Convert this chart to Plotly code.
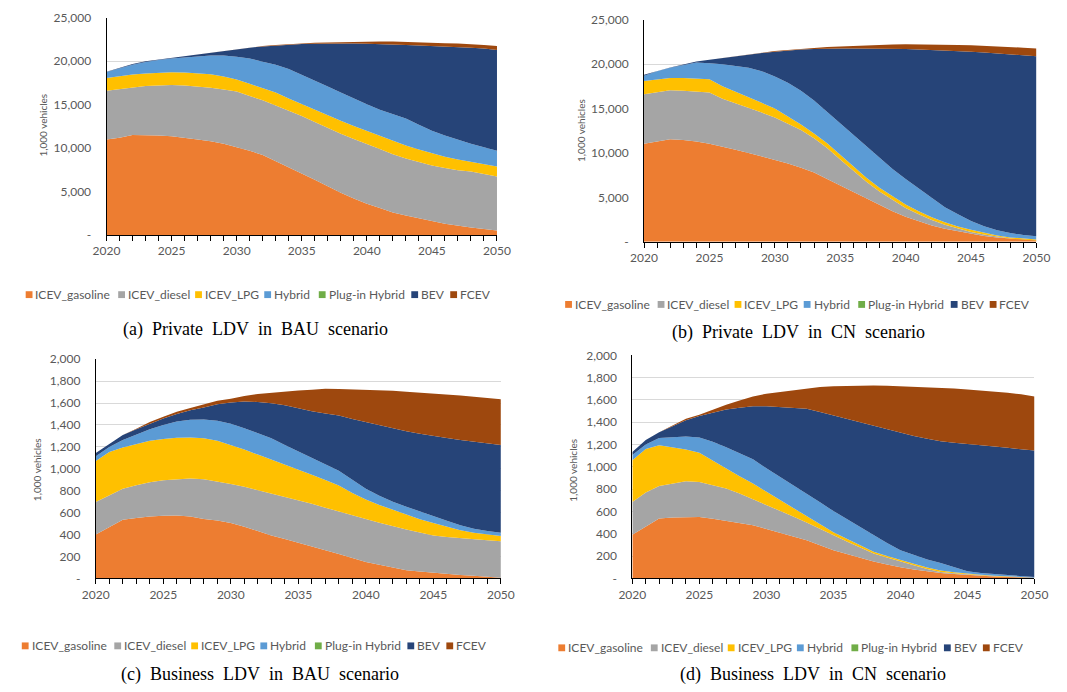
import numpy as np
import plotly.graph_objects as go

# ---------------- data (stack boundaries) ----------------
years = list(range(2020, 2051))
series_names = ["ICEV_gasoline", "ICEV_diesel", "ICEV_LPG", "Hybrid",
                "Plug-in Hybrid", "BEV", "FCEV"]
colors = ["#ED7D31", "#A5A5A5", "#FFC000", "#5B9BD5", "#70AD47", "#264478", "#9E480E"]

# (a) Private LDV, BAU  (1,000 vehicles, cumulative top of each band)
a_top_gasoline = [11000, 11200, 11500, 11500, 11450, 11350, 11200, 11000, 10800, 10500, 10100,
                  9700, 9200, 8500, 7800, 7100, 6350, 5600, 4850, 4200, 3600,
                  3100, 2600, 2250, 1900, 1600, 1300, 1050, 870, 700, 500]
a_top_diesel = [16600, 16800, 17000, 17150, 17200, 17250, 17200, 17100, 16950, 16750, 16500,
                16000, 15500, 14900, 14300, 13700, 13000, 12300, 11650, 11050, 10500,
                9900, 9300, 8800, 8400, 8000, 7700, 7450, 7300, 7000, 6730]
a_top_lpg = [18080, 18300, 18460, 18600, 18700, 18720, 18700, 18600, 18500, 18250, 17900,
             17400, 16900, 16400, 15700, 15050, 14400, 13750, 13160, 12550, 12000,
             11400, 10850, 10300, 9850, 9400, 9000, 8700, 8430, 8150, 7870]
a_top_hybrid = [18760, 19200, 19600, 19900, 20150, 20300, 20450, 20550, 20650, 20650, 20500,
                20300, 19950, 19600, 19100, 18460, 17800, 17100, 16400, 15700, 15050,
                14400, 13900, 13400, 12700, 12000, 11450, 10950, 10500, 10100, 9680]
a_top_phev = [18760, 19200, 19600, 19900, 20150, 20300, 20450, 20550, 20650, 20650, 20500,
              20300, 19950, 19600, 19100, 18460, 17800, 17100, 16400, 15700, 15050,
              14400, 13900, 13400, 12700, 12000, 11450, 10950, 10500, 10100, 9680]
a_top_bev = [18800, 19250, 19670, 20000, 20200, 20350, 20550, 20750, 21000, 21200, 21370,
             21550, 21700, 21800, 21900, 21970, 22000, 22030, 22050, 22050, 22000,
             21980, 21930, 21860, 21800, 21750, 21700, 21630, 21560, 21450, 21300]
a_top_fcev = [18800, 19250, 19670, 20000, 20200, 20360, 20570, 20780, 21030, 21230, 21400,
              21600, 21750, 21870, 21980, 22070, 22120, 22160, 22200, 22250, 22280,
              22280, 22270, 22240, 22180, 22120, 22080, 22030, 21970, 21880, 21750]

# (b) Private LDV, CN
b_top_gasoline = [11030, 11300, 11540, 11450, 11290, 11030, 10740, 10370, 10000, 9630, 9260,
                  8820, 8350, 7800, 7060, 6320, 5600, 4850, 4120, 3450, 2830,
                  2300, 1840, 1480, 1180, 900, 660, 500, 370, 260, 180]
b_top_diesel = [16600, 16850, 17060, 17000, 16900, 16800, 16100, 15600, 15100, 14550, 14000,
                13300, 12600, 11650, 10550, 9260, 7980, 6760, 5660, 4700, 3820,
                3100, 2460, 1920, 1470, 1100, 810, 570, 370, 250, 150]
b_top_lpg = [18100, 18300, 18450, 18450, 18400, 18300, 17500, 16900, 16300, 15650, 15000,
             14100, 13200, 12200, 11100, 9800, 8500, 7200, 6100, 5100, 4200,
             3450, 2760, 2200, 1730, 1350, 1000, 720, 500, 350, 250]
b_top_hybrid = [18700, 19200, 19600, 19900, 20200, 20100, 20000, 19800, 19600, 19200, 18600,
                17900, 17000, 15900, 14600, 13300, 12000, 10700, 9400, 8200, 7060,
                6000, 4900, 3900, 3100, 2350, 1760, 1300, 1000, 770, 630]
b_top_phev = [18700, 19200, 19600, 19900, 20200, 20100, 20000, 19800, 19600, 19200, 18600,
              17900, 17000, 15900, 14600, 13300, 12000, 10700, 9400, 8200, 7060,
              6000, 4900, 3900, 3100, 2350, 1760, 1300, 1000, 770, 630]
b_top_bev = [18800, 19220, 19620, 19950, 20300, 20500, 20700, 20900, 21100, 21250, 21400,
             21530, 21650, 21700, 21760, 21770, 21770, 21770, 21770, 21740, 21700,
             21650, 21600, 21550, 21500, 21400, 21300, 21200, 21100, 21000, 20900]
b_top_fcev = [18800, 19220, 19620, 19950, 20300, 20500, 20700, 20900, 21120, 21300, 21470,
              21600, 21730, 21840, 21930, 22000, 22070, 22140, 22200, 22220, 22240,
              22240, 22230, 22200, 22170, 22130, 22080, 22020, 21950, 21860, 21760]

# (c) Business LDV, BAU
c_top_gasoline = [401, 465, 535, 550, 565, 572, 574, 565, 541, 527, 505,
                  472, 432, 392, 360, 327, 290, 257, 223, 186, 149,
                  124, 100, 74, 62, 50, 38, 30, 24, 15, 6]
c_top_diesel = [698, 760, 817, 850, 877, 895, 906, 912, 905, 885, 862,
                835, 805, 773, 745, 713, 680, 645, 609, 575, 541,
                508, 475, 446, 418, 392, 378, 366, 357, 348, 339]
c_top_lpg = [1070, 1153, 1195, 1225, 1257, 1272, 1284, 1285, 1278, 1255, 1218,
             1175, 1130, 1085, 1040, 996, 946, 897, 847, 780, 719,
             670, 625, 579, 540, 505, 470, 440, 416, 400, 386]
c_top_hybrid = [1114, 1200, 1263, 1310, 1361, 1400, 1432, 1448, 1450, 1438, 1411,
                1370, 1325, 1278, 1218, 1159, 1100, 1040, 981, 900, 817,
                755, 700, 654, 610, 565, 525, 485, 452, 432, 416]
c_top_phev = [1114, 1200, 1263, 1310, 1361, 1400, 1432, 1448, 1450, 1438, 1411,
              1370, 1325, 1278, 1218, 1159, 1100, 1040, 981, 900, 817,
              755, 700, 654, 610, 565, 525, 485, 452, 432, 416]
c_top_bev = [1144, 1230, 1308, 1360, 1411, 1458, 1500, 1535, 1560, 1590, 1605,
             1614, 1610, 1599, 1580, 1551, 1525, 1505, 1486, 1455, 1426,
             1395, 1368, 1343, 1320, 1298, 1280, 1263, 1248, 1230, 1218]
c_top_fcev = [1144, 1230, 1308, 1365, 1426, 1475, 1521, 1555, 1590, 1620, 1640,
              1665, 1682, 1694, 1708, 1715, 1722, 1730, 1728, 1725, 1724,
              1718, 1712, 1703, 1696, 1688, 1680, 1670, 1658, 1645, 1634]

# (d) Business LDV, CN
d_top_gasoline = [390, 460, 536, 545, 550, 550, 535, 515, 497, 477, 442,
                  410, 375, 341, 297, 253, 218, 185, 151, 125, 99,
                  80, 62, 47, 38, 29, 22, 16, 12, 9, 6]
d_top_diesel = [684, 770, 827, 850, 870, 865, 838, 806, 760, 710, 661,
                608, 555, 501, 442, 384, 330, 277, 224, 188, 151,
                118, 85, 58, 45, 35, 27, 20, 15, 10, 6]
d_top_lpg = [1060, 1160, 1194, 1175, 1156, 1127, 1055, 981, 915, 850, 777,
             705, 632, 559, 486, 413, 355, 297, 239, 200, 163,
             130, 98, 70, 55, 41, 32, 24, 17, 11, 6]
d_top_hybrid = [1106, 1200, 1258, 1265, 1272, 1264, 1225, 1176, 1120, 1068, 987,
                912, 838, 763, 683, 603, 530, 457, 384, 318, 253,
                210, 170, 137, 100, 64, 48, 38, 29, 20, 12]
d_top_phev = [1106, 1200, 1258, 1265, 1272, 1264, 1225, 1176, 1120, 1068, 987,
              912, 838, 763, 683, 603, 530, 457, 384, 318, 253,
              210, 170, 137, 100, 64, 48, 38, 29, 20, 12]
d_top_bev = [1133, 1240, 1310, 1365, 1418, 1456, 1488, 1514, 1530, 1543, 1543,
             1535, 1528, 1520, 1492, 1461, 1430, 1399, 1368, 1335, 1301,
             1276, 1252, 1229, 1215, 1205, 1190, 1180, 1170, 1158, 1147]
d_top_fcev = [1133, 1240, 1310, 1370, 1432, 1467, 1515, 1557, 1595, 1630, 1656,
              1672, 1688, 1700, 1715, 1723, 1727, 1729, 1729, 1727, 1723,
              1718, 1714, 1709, 1702, 1694, 1685, 1675, 1665, 1650, 1630]

y_ticks_private = [0, 5000, 10000, 15000, 20000, 25000]
y_ticks_business = [0, 200, 400, 600, 800, 1000, 1200, 1400, 1600, 1800, 2000]
x_ticks = [2020, 2025, 2030, 2035, 2040, 2045, 2050]
captions = ["(a)  Private  LDV  in  BAU  scenario",
            "(b)  Private  LDV  in  CN  scenario",
            "(c)  Business  LDV  in  BAU  scenario",
            "(d)  Business  LDV  in  CN  scenario"]
y_title = "1,000 vehicles"

panels = [
    [a_top_gasoline, a_top_diesel, a_top_lpg, a_top_hybrid, a_top_phev, a_top_bev, a_top_fcev],
    [b_top_gasoline, b_top_diesel, b_top_lpg, b_top_hybrid, b_top_phev, b_top_bev, b_top_fcev],
    [c_top_gasoline, c_top_diesel, c_top_lpg, c_top_hybrid, c_top_phev, c_top_bev, c_top_fcev],
    [d_top_gasoline, d_top_diesel, d_top_lpg, d_top_hybrid, d_top_phev, d_top_bev, d_top_fcev],
]
y_ticks = [y_ticks_private, y_ticks_private, y_ticks_business, y_ticks_business]

# ---------------- layout geometry (pixels) ----------------
W, H = 1067, 692
# x0, x1, ytop, ybottom of each plot area
geom = [(95, 496, 10, 232), (647, 1050, 12, 239), (84, 500, 359, 583), (635, 1048, 355, 583)]
ytitle_pos = [(30, 120), (583, 125), (23, 472), (574, 472)]
legend_pos = [(12, 293), (566, 303), (8, 652), (559, 654)]
legend_offsets = [0, 95, 174, 245, 301, 396, 436]
caption_pos = [(248, 329), (806, 332), (253, 681), (821, 681)]

def px(x):
    return x / W

def py(y):
    return 1 - y / H

tick_font = dict(family="Lato", size=12, color="#595959")

fig = go.Figure()
layout = dict(width=W, height=H, margin=dict(l=0, r=0, t=0, b=0),
              paper_bgcolor="white", plot_bgcolor="white", showlegend=False)
shapes, annotations = [], []

for i, tops in enumerate(panels):
    sfx = "" if i == 0 else str(i + 1)
    x0, x1, yt, yb = geom[i]
    prev = np.zeros(len(years))
    for k, name in enumerate(series_names):
        top = np.array(tops[k], dtype=float)
        vals = top - prev
        prev = top
        fig.add_trace(go.Scatter(
            x=years, y=vals, name=name, mode="lines", stackgroup=f"s{i}",
            line=dict(width=0, color=colors[k]), fillcolor=colors[k],
            xaxis="x" + sfx, yaxis="y" + sfx, showlegend=False))
    yt_vals = y_ticks[i]
    layout["xaxis" + sfx] = dict(
        domain=[px(x0), px(x1)], anchor="y" + sfx, range=[2020, 2050],
        tickvals=x_ticks, ticktext=[str(v) for v in x_ticks],
        ticks="outside", ticklen=5, tickcolor="black", tickwidth=1,
        showline=True, linecolor="black", linewidth=1, showgrid=False, zeroline=False,
        minor=dict(tickvals=years, ticks="outside", ticklen=5, tickcolor="black", tickwidth=1,
                   showgrid=False),
        tickfont=tick_font, ticklabelstandoff=0)
    layout["yaxis" + sfx] = dict(
        domain=[py(yb), py(yt)], anchor="x" + sfx, range=[0, yt_vals[-1]],
        tickvals=yt_vals, ticktext=["-" if v == 0 else f"{v:,}" for v in yt_vals],
        ticks="", showline=True, linecolor="black", linewidth=1,
        showgrid=True, gridcolor="#d9d9d9", gridwidth=1, zeroline=False,
        tickfont=tick_font, ticklabelstandoff=12)
    # y-axis title
    tx, ty = ytitle_pos[i]
    annotations.append(dict(x=px(tx), y=py(ty), xref="paper", yref="paper", text=y_title,
                            textangle=-90, showarrow=False, xanchor="center", yanchor="middle",
                            font=dict(family="Lato", size=10, color="#595959")))
    # legend
    lx, ly = legend_pos[i]
    for k, name in enumerate(series_names):
        sx = lx + legend_offsets[k]
        shapes.append(dict(type="rect", xref="paper", yref="paper",
                           x0=px(sx), x1=px(sx + 7), y0=py(ly + 3.5), y1=py(ly - 3.5),
                           fillcolor=colors[k], line=dict(width=0)))
        annotations.append(dict(x=px(sx + 8), y=py(ly), xref="paper", yref="paper", text=name,
                                showarrow=False, xanchor="left", yanchor="middle",
                                font=dict(family="Lato", size=12, color="#595959")))
    # caption
    cx, cy = caption_pos[i]
    annotations.append(dict(x=px(cx), y=py(cy), xref="paper", yref="paper",
                            text=captions[i].replace(" ", "\u00a0"),
                            showarrow=False, xanchor="center", yanchor="middle",
                            font=dict(family="Liberation Serif", size=18, color="black")))

layout["shapes"] = shapes
layout["annotations"] = annotations
fig.update_layout(**layout)
fig.write_html("out.html", config={"displayModeBar": False},
               post_script="document.body.style.margin='0';")
